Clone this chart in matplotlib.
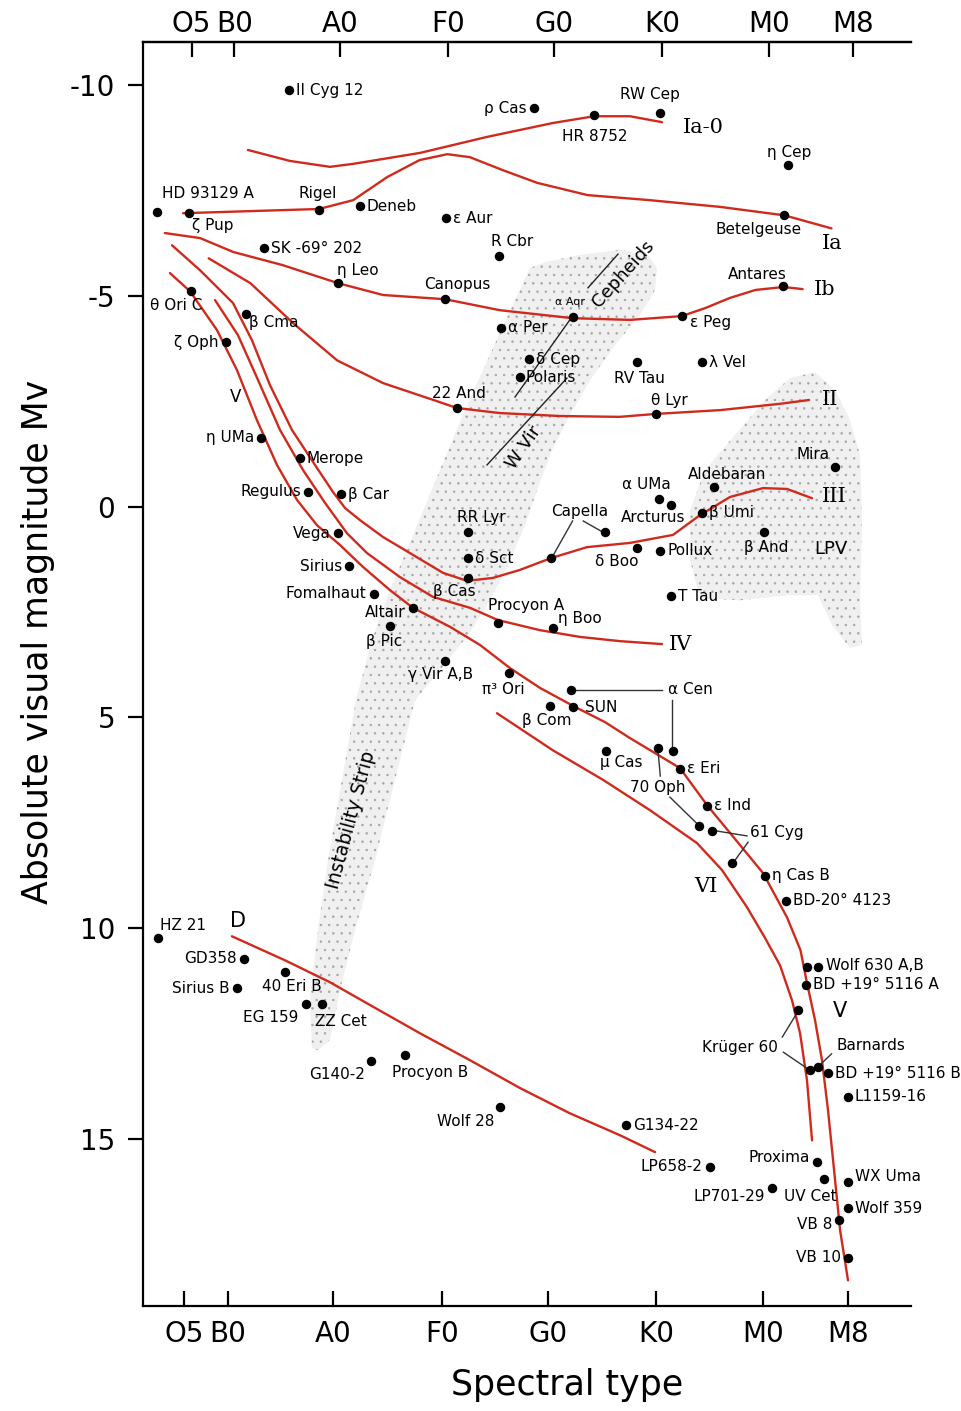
import matplotlib
matplotlib.use("Agg")
import matplotlib.pyplot as plt
from matplotlib.patches import Polygon

plt.rcParams["font.family"] = ["DejaVu Sans"]
plt.rcParams["hatch.color"] = "#a4a4a4"
plt.rcParams["hatch.linewidth"] = 0.5

RED = "#cf2a1c"

# spectral scale: B0 = 0, A0 = 10, F0 = 20, G0 = 30, K0 = 40, M0 = 50, M8 = 58
tick_labels = ["O5", "B0", "A0", "F0", "G0", "K0", "M0", "M8"]
bottom_ticks = [-4.1, 0, 9.8, 20, 29.9, 40, 50, 57.9]
top_ticks = [-3.4, 0.6, 10.5, 20.6, 30.5, 40.6, 50.6, 58.4]
mv_ticks = [-10, -5, 0, 5, 10, 15]

# single stars
star_names = ["II Cyg 12", "ρ Cas", "HR 8752", "RW Cep", "η Cep", "HD 93129 A", "ζ Pup",
              "Rigel", "Deneb", "ε Aur", "R Cbr", "SK -69° 202", "η Leo", "Canopus",
              "α Per", "Betelgeuse", "Antares", "ε Peg", "θ Ori C", "β Cma", "ζ Oph",
              "η UMa", "Merope", "Regulus", "δ Cep", "Polaris", "RV Tau", "22 And",
              "β Car", "Vega", "Sirius", "Fomalhaut", "Altair", "β Pic", "RR Lyr",
              "δ Sct", "β Cas", "δ Boo", "Procyon A", "η Boo", "γ Vir A,B", "π³ Ori",
              "SUN", "β Com", "μ Cas", "λ Vel", "θ Lyr", "Mira", "Aldebaran", "α UMa",
              "Arcturus", "β Umi", "β And", "Pollux", "T Tau", "ε Eri", "ε Ind",
              "η Cas B", "BD-20° 4123", "BD +19° 5116 A", "BD +19° 5116 B", "L1159-16",
              "G134-22", "LP658-2", "Proxima", "UV Cet", "WX Uma", "LP701-29",
              "Wolf 359", "VB 8", "VB 10", "Wolf 28", "HZ 21", "GD358", "Sirius B",
              "40 Eri B", "EG 159", "ZZ Cet", "G140-2", "Procyon B"]
star_sp = [5.7, 28.6, 34.2, 40.4, 52.3, -6.6, -3.6,
           8.5, 12.3, 20.4, 25.3, 3.4, 10.3, 20.3,
           25.5, 52.0, 51.9, 42.4, -3.5, 1.7, -0.2,
           3.1, 6.7, 7.5, 28.1, 27.3, 38.2, 21.4,
           10.6, 10.3, 11.3, 13.6, 17.3, 15.1, 22.4,
           22.4, 22.4, 38.2, 25.2, 30.4, 20.3, 26.3,
           32.2, 30.1, 35.3, 44.3, 40.0, 56.7, 45.4, 40.3,
           41.4, 44.3, 50.1, 40.4, 41.4, 42.2, 44.8,
           50.2, 52.1, 54.0, 56.1, 57.9,
           37.2, 45.0, 55.0, 55.7, 57.9, 50.8,
           57.9, 57.1, 57.9, 25.4, -6.5, 1.5, 0.8,
           5.3, 7.3, 8.8, 13.4, 16.5]
star_mv = [-9.88, -9.45, -9.29, -9.34, -8.10, -6.99, -6.96,
           -7.03, -7.12, -6.84, -5.94, -6.13, -5.30, -4.92,
           -4.24, -6.91, -5.23, -4.52, -5.11, -4.56, -3.90,
           -1.63, -1.15, -0.35, -3.50, -3.07, -3.43, -2.34,
           -0.30, 0.63, 1.41, 2.07, 2.41, 2.83, 0.60,
           1.22, 1.70, 0.98, 2.76, 2.88, 3.66, 3.94,
           4.76, 4.74, 5.80, -3.43, -2.20, -0.94, -0.46, -0.18,
           -0.04, 0.15, 0.60, 1.05, 2.12, 6.22, 7.10,
           8.76, 9.35, 11.34, 13.44, 14.00,
           14.67, 15.66, 15.55, 15.95, 16.02, 16.16,
           16.64, 16.92, 17.82, 14.24, 10.22, 10.72, 11.42,
           11.03, 11.80, 11.80, 13.16, 13.01]

# label placement (pixel offsets); default is to the right of the dot
label_place = {
    "ρ Cas": "l", "HR 8752": (1, -22, "center"), "RW Cep": (-10, 18, "center"),
    "η Cep": (2, 13, "center"), "HD 93129 A": (51, 18, "center"), "ζ Pup": (23, -12, "center"),
    "Rigel": (-1, 17, "center"), "R Cbr": (13, 15, "center"), "η Leo": (20, 13, "center"),
    "Canopus": (12, 15, "center"), "Betelgeuse": (-26, -14, "center"),
    "Antares": (-26, 12, "center"), "ε Peg": (8, -6, "left"), "θ Ori C": (-14, -14, "center"),
    "β Cma": (3, -8, "left"), "ζ Oph": "l", "η UMa": "l", "Regulus": "l",
    "Polaris": (5, 0, "left"), "RV Tau": (3, -16, "center"), "22 And": (2, 15, "center"),
    "Vega": "l", "Sirius": "l", "Fomalhaut": "l", "Altair": (-8, -4, "right"),
    "β Pic": (-5, -16, "center"), "RR Lyr": (14, 14, "center"), "β Cas": (-13, -13, "center"),
    "δ Boo": (-20, -14, "center"), "Procyon A": (28, 18, "center"), "η Boo": (5, 10, "left"),
    "γ Vir A,B": (-5, -14, "center"), "π³ Ori": (-6, -17, "center"), "SUN": (12, 0, "left"),
    "β Com": (-3, -14, "center"), "μ Cas": (16, -11, "center"), "θ Lyr": (13, 13, "center"),
    "Mira": (-22, 13, "center"), "Aldebaran": (13, 13, "center"), "α UMa": (-13, 15, "center"),
    "Arcturus": (-18, -13, "center"), "β And": (2, -16, "center"), "LP658-2": "l",
    "Proxima": (-7, 5, "right"), "UV Cet": (-14, -17, "center"), "WX Uma": (7, 6, "left"),
    "LP701-29": (-7, -9, "right"), "VB 8": (-7, -4, "right"), "VB 10": "l",
    "Wolf 28": (-5, -14, "right"), "HZ 21": (25, 12, "center"), "GD358": "l",
    "Sirius B": "l", "40 Eri B": (7, -15, "center"), "EG 159": (-8, -13, "right"),
    "ZZ Cet": (19, -17, "center"), "G140-2": (-6, -13, "right"), "Procyon B": (26, -17, "center"),
}

# multiple stars joined to one label by leader lines
capella_sp, capella_mv = [30.2, 35.2], [1.22, 0.60]
acen_sp, acen_mv = [32.1, 41.6], [4.35, 5.79]
oph70_sp, oph70_mv = [40.2, 44.0], [5.72, 7.58]
cyg61_sp, cyg61_mv = [45.2, 47.1], [7.69, 8.45]
wolf630_sp, wolf630_mv = [54.1, 55.1], [10.91, 10.91]
kruger_sp, kruger_mv = [53.3, 54.4], [11.94, 13.35]
barnard_sp, barnard_mv = [55.1], [13.30]
aqr_sp, aqr_mv = [32.2], [-4.50]

# luminosity class sequences
ia0_sp = [1.87, 5.79, 9.53, 11.68, 17.94, 24.21, 30.37, 34.21, 37.57, 40.56]
ia0_mv = [-8.46, -8.20, -8.06, -8.13, -8.39, -8.77, -9.10, -9.26, -9.26, -9.12]
ia_sp = [-4.2, 2.1, 8.5, 11.7, 14.9, 17.9, 20.5, 22.6, 25.7, 28.9, 33.6, 39.4, 46.0, 52.0, 56.4]
ia_mv = [-6.96, -7.01, -7.06, -7.27, -7.82, -8.22, -8.36, -8.29, -7.98, -7.68, -7.39, -7.27, -7.11, -6.91, -6.60]
ib_sp = [-5.9, -2.6, 0.5, 5.1, 10.3, 14.5, 20.3, 25.4, 32.2, 37.6, 42.4, 44.6, 46.9, 49.3, 51.9, 53.7]
ib_mv = [-6.49, -6.37, -6.04, -5.73, -5.30, -5.02, -4.92, -4.66, -4.47, -4.43, -4.52, -4.71, -4.95, -5.14, -5.21, -5.16]
ii_sp = [-1.8, 2.1, 6.1, 10.2, 14.5, 19.2, 21.4, 25.4, 31.0, 36.6, 40.0, 46.0, 51.6, 54.3]
ii_mv = [-5.89, -5.30, -4.35, -3.47, -2.93, -2.53, -2.34, -2.22, -2.15, -2.13, -2.20, -2.29, -2.44, -2.53]
iii_sp = [-5.23, -2.62, 0.47, 2.24, 3.93, 5.98, 8.13, 9.81, 10.93, 12.34, 14.49, 17.66, 20.09, 22.34,
          24.77, 27.29, 30.19, 33.55, 37.57, 41.59, 44.11, 46.92, 50.0, 52.24, 54.58]
iii_mv = [-6.20, -5.61, -4.83, -3.95, -2.88, -1.82, -0.99, -0.35, 0.03, 0.32, 0.72, 1.20, 1.57, 1.76,
          1.69, 1.50, 1.22, 0.96, 0.86, 0.67, 0.20, -0.23, -0.44, -0.42, -0.20]
iv_sp = [-1.21, 0.93, 2.80, 4.86, 7.01, 9.07, 11.12, 12.99, 16.07, 19.16, 22.62, 25.23, 29.16, 32.90, 36.64, 40.56]
iv_mv = [-4.90, -4.07, -3.01, -1.82, -0.87, -0.09, 0.63, 1.10, 1.67, 2.14, 2.40, 2.69, 2.93, 3.09, 3.19, 3.26]
v_sp = [-5.42, -3.55, -1.03, 0.84, 2.71, 4.58, 6.45, 8.32, 10.47, 12.62, 15.14, 17.29, 20.75, 23.55,
        26.36, 29.16, 32.43, 35.23, 37.57, 42.24, 44.77, 46.92, 50.0, 52.24, 53.5, 54.11, 54.86,
        55.51, 56.07, 56.64, 57.20, 57.94]
v_mv = [-5.54, -5.11, -4.19, -3.24, -2.05, -0.99, -0.16, 0.44, 0.91, 1.43, 1.98, 2.40, 2.85, 3.28,
        3.83, 4.30, 4.75, 5.11, 5.49, 6.20, 7.08, 7.74, 8.69, 9.74, 10.52, 11.30, 12.18,
        13.13, 14.31, 15.74, 17.16, 18.35]
vi_sp = [25.14, 30.37, 35.05, 39.44, 43.83, 46.17, 48.50, 50.19, 51.59, 52.71, 53.46, 54.11, 54.58]
vi_mv = [4.90, 5.78, 6.48, 7.20, 7.98, 8.62, 9.50, 10.23, 10.88, 11.71, 12.49, 13.61, 15.03]
d_sp = [0.37, 5.33, 9.53, 13.27, 17.94, 22.62, 27.29, 31.96, 36.64, 39.91]
d_mv = [10.19, 10.76, 11.28, 11.82, 12.49, 13.13, 13.79, 14.39, 14.91, 15.31]

# shaded regions
strip_sp = [7.85, 7.66, 8.41, 9.35, 10.65, 11.96, 13.46, 15.14, 17.48, 19.81, 22.15, 24.67, 26.82, 28.22,
            29.63, 32.90, 36.64, 39.25, 40.09, 39.91, 38.50, 36.17, 33.83, 31.96, 30.28, 28.88, 27.76,
            26.17, 24.49, 22.43, 19.81, 17.48, 15.61, 13.74, 11.87, 10.47, 9.53, 8.41]
strip_mv = [12.84, 11.71, 10.04, 8.38, 6.48, 4.59, 3.16, 1.98, 0.56, -0.87, -2.29, -3.71, -4.90, -5.66,
            -5.80, -5.97, -6.09, -5.97, -5.66, -5.14, -4.55, -3.83, -3.00, -2.17, -1.34, -0.39, 0.44,
            1.39, 2.22, 3.05, 3.88, 4.59, 6.48, 8.38, 10.04, 11.47, 12.65, 12.89]
lpv_sp = [44.11, 43.18, 43.18, 44.58, 47.38, 50.19, 52.52, 54.86, 56.73, 58.13, 59.07, 59.25,
          59.07, 59.25, 58.13, 56.45, 55.14, 52.52, 47.85]
lpv_mv = [2.17, 1.27, 0.08, -0.87, -1.70, -2.53, -3.05, -3.19, -2.77, -2.05, -1.22, 0.32,
          2.22, 3.28, 3.35, 2.81, 2.10, 2.10, 2.22]

# period-luminosity guide lines
ceph_sp, ceph_mv = [26.82, 32.06], [-2.60, -4.47]
ceph2_sp, ceph2_mv = [33.64, 36.45], [-5.19, -5.99]
wvir_sp, wvir_mv = [24.21, 31.68], [-0.99, -3.05]


fig = plt.figure(figsize=(9.61, 14.11), dpi=100)
ax = fig.add_axes([0.1488, 0.0744, 0.7992, 0.8958])
ax.set_xlim(-7.94, 63.83)
ax.set_ylim(18.96, -11.02)

for xs, ys in [(strip_sp, strip_mv), (lpv_sp, lpv_mv)]:
    ax.add_patch(Polygon(list(zip(xs, ys)), closed=True, facecolor="#f0f0f0",
                         edgecolor="#a4a4a4", lw=0, hatch="..", zorder=0))

for xs, ys in [(ia0_sp, ia0_mv), (ia_sp, ia_mv), (ib_sp, ib_mv), (ii_sp, ii_mv), (iii_sp, iii_mv),
               (iv_sp, iv_mv), (v_sp, v_mv), (vi_sp, vi_mv), (d_sp, d_mv)]:
    ax.plot(xs, ys, color=RED, lw=1.7, solid_capstyle="round", solid_joinstyle="round", zorder=2)

for xs, ys in [(ceph_sp, ceph_mv), (ceph2_sp, ceph2_mv), (wvir_sp, wvir_mv)]:
    ax.plot(xs, ys, color="#222222", lw=1.0, zorder=2)

# dots
all_sp = star_sp + capella_sp + acen_sp + oph70_sp + cyg61_sp + wolf630_sp + kruger_sp + barnard_sp + aqr_sp
all_mv = star_mv + capella_mv + acen_mv + oph70_mv + cyg61_mv + wolf630_mv + kruger_mv + barnard_mv + aqr_mv
ax.plot(all_sp, all_mv, "o", color="black", ms=5.8, zorder=4)

FS = 11
for name, x, y in zip(star_names, star_sp, star_mv):
    p = label_place.get(name, "r")
    if p == "r":
        p = (7, 0, "left")
    elif p == "l":
        p = (-7, 0, "right")
    ax.annotate(name, (x, y), xytext=(p[0], p[1]), textcoords="offset pixels",
                ha=p[2], va="center", fontsize=FS, zorder=5)

ax.annotate("α Aqr", (aqr_sp[0], aqr_mv[0]), xytext=(-3, 15), textcoords="offset pixels",
            ha="center", va="center", fontsize=8)
ax.annotate("Wolf 630 A,B", (wolf630_sp[1], wolf630_mv[1]), xytext=(8, 1), textcoords="offset pixels",
            ha="left", va="center", fontsize=FS)

# grouped labels with leader lines
lead = dict(color="#333333", lw=1.0, zorder=3)
ax.text(32.9, 0.11, "Capella", ha="center", va="center", fontsize=FS)
ax.plot([33.2, 35.0], [0.34, 0.60], **lead)
ax.plot([32.2, 30.4], [0.34, 1.15], **lead)
ax.text(41.1, 4.33, "α Cen", ha="left", va="center", fontsize=FS)
ax.plot([32.1, 40.6], [4.35, 4.35], **lead)
ax.plot([41.5, 41.5], [4.59, 5.67], **lead)
ax.text(40.2, 6.65, "70 Oph", ha="center", va="center", fontsize=FS)
ax.plot([40.2, 40.4], [5.82, 6.39], **lead)
ax.plot([41.3, 43.8], [6.89, 7.51], **lead)
ax.text(51.3, 7.74, "61 Cyg", ha="center", va="center", fontsize=FS)
ax.plot([45.6, 48.5], [7.69, 7.81], **lead)
ax.plot([48.6, 47.4], [7.96, 8.38], **lead)
ax.text(47.85, 12.82, "Krüger 60", ha="center", va="center", fontsize=FS)
ax.plot([51.8, 53.1], [12.58, 12.04], **lead)
ax.plot([51.9, 54.1], [12.94, 13.32], **lead)
ax.text(60.1, 12.77, "Barnards", ha="center", va="center", fontsize=FS)
ax.plot([56.4, 55.2], [12.98, 13.27], **lead)

# class labels
cls = dict(fontsize=15, family="DejaVu Serif", ha="center", va="center")
ax.text(44.4, -9.0, "Ia-0", **cls)
ax.text(56.5, -6.23, "Ia", **cls)
ax.text(55.8, -5.16, "Ib", **cls)
ax.text(56.3, -2.53, "II", **cls)
ax.text(56.7, -0.23, "III", **cls)
ax.text(42.3, 3.26, "IV", **cls)
ax.text(57.2, 11.96, "V", fontsize=15, ha="center", va="center")
ax.text(44.7, 9.0, "VI", **cls)
ax.text(0.75, -2.60, "V", fontsize=12, ha="center", va="center")
ax.text(0.93, 9.83, "D", fontsize=15, ha="center", va="center")
ax.text(56.3, 1.0, "LPV", fontsize=13, ha="center", va="center")
ax.text(11.5, 7.44, "Instability Strip", fontsize=13.5, rotation=75,
        rotation_mode="anchor", ha="center", va="center")
ax.text(36.9, -5.51, "Cepheids", fontsize=13, rotation=48,
        rotation_mode="anchor", ha="center", va="center")
ax.text(27.6, -1.41, "W Vir", fontsize=13, rotation=55,
        rotation_mode="anchor", ha="center", va="center")

# axes
ax.spines["right"].set_visible(False)
for s in ["left", "bottom", "top"]:
    ax.spines[s].set_linewidth(1.6)
ax.set_yticks(mv_ticks)
ax.set_yticklabels(["-10", "-5", "0", "5", "10", "15"])
ax.set_xticks(bottom_ticks)
ax.set_xticklabels(tick_labels)
ax.tick_params(axis="x", direction="in", length=11, width=1.6, labelsize=20, pad=10)
ax.tick_params(axis="y", direction="out", length=11, width=1.6, labelsize=20, pad=9)

ax2 = ax.twiny()
ax2.set_xlim(ax.get_xlim())
ax2.set_xticks(top_ticks)
ax2.set_xticklabels(tick_labels)
ax2.tick_params(axis="x", direction="in", length=11, width=1.6, labelsize=20, pad=3)
for s in ["right", "left", "bottom"]:
    ax2.spines[s].set_visible(False)
ax2.spines["top"].set_linewidth(1.6)

fig.text(38 / 961, 1 - 642 / 1411, "Absolute visual magnitude Mv", rotation=90,
         ha="center", va="center", fontsize=25)
fig.text(567 / 961, 1 - 1385 / 1411, "Spectral type", ha="center", va="center", fontsize=25)

fig.savefig("out.png", dpi=100)
